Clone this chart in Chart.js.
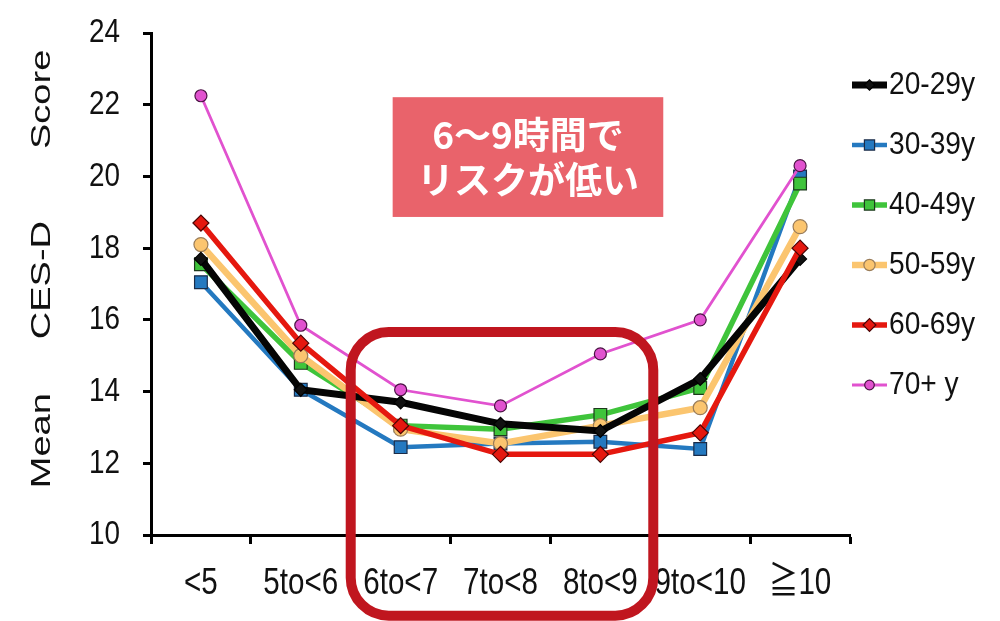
<!DOCTYPE html>
<html lang="ja">
<head>
<meta charset="utf-8">
<style>
  html, body { margin: 0; padding: 0; background: #ffffff; }
  canvas { display: block; }
</style>
<script src="https://cdn.jsdelivr.net/npm/chart.js@4.4.1/dist/chart.umd.min.js"></script>
</head>
<body>
<canvas id="chart" width="1000" height="621"></canvas>
<script>
// Sleep duration categories (hours per night)
const categories = ['<5', '5to<6', '6to<7', '7to<8', '8to<9', '9to<10', '≧10'];

// Mean CES-D score per age group
const ageLabels = ['20-29y', '30-39y', '40-49y', '50-59y', '60-69y', '70+ y'];
const age20s = [17.7, 14.05, 13.7, 13.1, 12.9, 14.35, 17.7];
const age30s = [17.05, 14.05, 12.45, 12.55, 12.6, 12.4, 20.0];
const age40s = [17.55, 14.8, 13.05, 12.95, 13.35, 14.1, 19.8];
const age50s = [18.1, 15.0, 12.95, 12.55, 13.05, 13.55, 18.6];
const age60s = [18.7, 15.35, 13.05, 12.25, 12.25, 12.85, 18.0];
const age70s = [22.25, 15.85, 14.05, 13.6, 15.05, 16.0, 20.3];

// Y axis ticks
const yTicks = [10, 12, 14, 16, 18, 20, 22, 24];
const yTitleWords = ['Mean', 'CES-D', 'Score'];

// Callout text
const noteLines = ['6〜9時間で', 'リスクが低い'];

const seriesValues = [age20s, age30s, age40s, age50s, age60s, age70s];

// Per-series look: line colour/width, marker shape, draw order (lower = on top)
const seriesStyle = [
  { line: '#050505', width: 7,   shape: 'rectRot', r: 6.5, fill: '#111111', edge: '#000000', order: 2 },
  { line: '#2479c0', width: 4.5, shape: 'rect',    r: 9,   fill: '#2479c0', edge: '#1b2c48', order: 5 },
  { line: '#3fc43b', width: 5.5, shape: 'rect',    r: 9,   fill: '#3fc43b', edge: '#1d3a1c', order: 4 },
  { line: '#fbc56f', width: 6.5, shape: 'circle',  r: 7,   fill: '#fbc56f', edge: '#9a7d5a', order: 3 },
  { line: '#e5180f', width: 5.5, shape: 'rectRot', r: 8,   fill: '#e5180f', edge: '#4a0505', order: 1 },
  { line: '#e152cf', width: 2.8, shape: 'circle',  r: 6,   fill: '#e152cf', edge: '#4b1344', order: 0 }
];

const SANS = '"Liberation Sans", "Noto Sans CJK JP", Arial, sans-serif';

const datasets = seriesValues.map((vals, i) => {
  const s = seriesStyle[i];
  return {
    label: ageLabels[i],
    data: vals,
    borderColor: s.line,
    backgroundColor: s.fill,
    borderWidth: s.width,
    pointStyle: s.shape,
    pointRadius: s.r,
    pointHoverRadius: s.r,
    pointBackgroundColor: s.fill,
    pointBorderColor: s.edge,
    pointBorderWidth: 1.2,
    tension: 0,
    fill: false,
    order: s.order
  };
});

// Draws text horizontally condensed by `squash` around (x, y)
function condensedText(ctx, text, x, y, squash) {
  ctx.save();
  ctx.translate(x, y);
  ctx.scale(squash, 1);
  ctx.fillText(text, 0, 0);
  ctx.restore();
}

// Tick labels in a condensed face, placed from the scales' own tick positions
const tickLabelPlugin = {
  id: 'tickLabels',
  afterDraw(chart, args, opts) {
    const { ctx, scales: { x, y } } = chart;
    ctx.save();
    ctx.fillStyle = opts.color;
    ctx.textBaseline = 'middle';
    ctx.font = opts.xFont;
    ctx.textAlign = 'center';
    x.ticks.forEach((t, i) => {
      condensedText(ctx, x.getLabelForValue(t.value), x.getPixelForTick(i), x.top + opts.xOffset, opts.xSquash);
    });
    ctx.font = opts.yFont;
    ctx.textAlign = 'right';
    y.ticks.forEach(t => {
      condensedText(ctx, String(t.value), y.right - opts.yOffset, y.getPixelForValue(t.value), opts.ySquash);
    });
    ctx.restore();
  }
};

// Vertical axis title, drawn rotated along the left side, words spread apart
const axisTitlePlugin = {
  id: 'axisTitle',
  afterDraw(chart, args, opts) {
    const { ctx, chartArea } = chart;
    ctx.save();
    ctx.font = opts.font;
    ctx.fillStyle = opts.color;
    ctx.textAlign = 'center';
    ctx.textBaseline = 'middle';
    const cy = (chartArea.top + chartArea.bottom) / 2 + opts.shift;
    ctx.translate(opts.x, cy);
    ctx.rotate(-Math.PI / 2);
    ctx.scale(1, opts.squash);
    const widths = opts.words.map(w => ctx.measureText(w).width);
    const total = widths.reduce((a, b) => a + b, 0) + opts.gaps.reduce((a, b) => a + b, 0);
    let pos = -total / 2;
    opts.words.forEach((w, i) => {
      ctx.fillText(w, pos + widths[i] / 2, 0);
      pos += widths[i] + (opts.gaps[i] || 0);
    });
    ctx.restore();
  }
};

// Side legend: a short line sample with its marker, followed by the label
const sideLegendPlugin = {
  id: 'sideLegend',
  afterDraw(chart, args, opts) {
    const { ctx, chartArea } = chart;
    const x0 = chartArea.right + opts.offsetX;
    ctx.save();
    chart.data.datasets.forEach((ds, i) => {
      const y = chartArea.top + opts.firstY + i * opts.spacing;
      ctx.strokeStyle = ds.borderColor;
      ctx.lineWidth = ds.borderWidth;
      ctx.lineCap = 'butt';
      ctx.beginPath();
      ctx.moveTo(x0, y);
      ctx.lineTo(x0 + opts.lineLen, y);
      ctx.stroke();
      ctx.fillStyle = ds.pointBackgroundColor;
      ctx.strokeStyle = ds.pointBorderColor;
      ctx.lineWidth = ds.pointBorderWidth;
      Chart.helpers.drawPoint(ctx, {
        pointStyle: ds.pointStyle,
        radius: ds.pointRadius * opts.markerScale,
        rotation: 0,
        borderWidth: ds.pointBorderWidth
      }, x0 + opts.lineLen / 2, y);
      ctx.fillStyle = opts.color;
      ctx.font = opts.font;
      ctx.textAlign = 'left';
      ctx.textBaseline = 'middle';
      condensedText(ctx, ds.label, x0 + opts.lineLen + opts.textGap, y, opts.squash);
    });
    ctx.restore();
  }
};

// Callout box and the rounded frame around the 6–9 hour range
const calloutPlugin = {
  id: 'callout',
  afterDraw(chart, args, opts) {
    const { ctx, scales: { x, y } } = chart;
    ctx.save();
    // filled note box
    const bx1 = x.getPixelForValue(opts.box.x1), bx2 = x.getPixelForValue(opts.box.x2);
    const by1 = y.getPixelForValue(opts.box.y1), by2 = y.getPixelForValue(opts.box.y2);
    ctx.fillStyle = opts.box.color;
    ctx.fillRect(bx1, by1, bx2 - bx1, by2 - by1);
    ctx.fillStyle = '#ffffff';
    ctx.font = opts.box.font;
    ctx.textAlign = 'center';
    ctx.textBaseline = 'middle';
    const cx = (bx1 + bx2) / 2, cy = (by1 + by2) / 2;
    opts.box.lines.forEach((t, i) => {
      ctx.fillText(t, cx, cy + (i - (opts.box.lines.length - 1) / 2) * opts.box.lineGap);
    });
    // rounded frame
    const fx1 = x.getPixelForValue(opts.frame.x1), fx2 = x.getPixelForValue(opts.frame.x2);
    const fy1 = y.getPixelForValue(opts.frame.y1), fy2 = y.getPixelForValue(opts.frame.y2);
    ctx.strokeStyle = opts.frame.color;
    ctx.lineWidth = opts.frame.width;
    ctx.beginPath();
    ctx.roundRect(fx1, fy1, fx2 - fx1, fy2 - fy1, opts.frame.radius);
    ctx.stroke();
    ctx.restore();
  }
};

new Chart(document.getElementById('chart'), {
  type: 'line',
  data: { labels: categories, datasets },
  plugins: [tickLabelPlugin, axisTitlePlugin, calloutPlugin, sideLegendPlugin],
  options: {
    responsive: false,
    animation: false,
    devicePixelRatio: 1,
    layout: { padding: { top: 33, right: 150, bottom: 0, left: 0 } },
    plugins: {
      legend: { display: false },
      tooltip: { enabled: false },
      tickLabels: {
        color: '#111111',
        xFont: '37px ' + SANS,
        xSquash: 0.8,
        xOffset: 49,
        yFont: '34px ' + SANS,
        ySquash: 0.82,
        yOffset: 31
      },
      axisTitle: {
        words: yTitleWords,
        font: '38px ' + SANS,
        color: '#111111',
        x: 42,
        shift: -15,
        gaps: [54, 72],
        squash: 0.74
      },
      sideLegend: {
        offsetX: 2,
        firstY: 52,
        spacing: 60,
        lineLen: 35,
        textGap: 2,
        markerScale: 0.8,
        font: '32px ' + SANS,
        squash: 0.88,
        color: '#111111'
      },
      callout: {
        box: {
          x1: 1.92, x2: 4.63, y1: 22.21, y2: 18.87,
          color: '#e9636b',
          font: 'bold 37px "Noto Sans CJK JP", sans-serif',
          lines: noteLines,
          lineGap: 45
        },
        frame: {
          x1: 1.5, x2: 4.53, y1: 15.66, y2: 7.75,
          color: '#c0161f',
          width: 10,
          radius: 38
        }
      }
    },
    scales: {
      x: {
        type: 'category',
        offset: true,
        afterFit(scale) { scale.height = 86; },
        grid: {
          offset: true,
          drawOnChartArea: false,
          drawTicks: true,
          tickLength: 9,
          tickWidth: 3,
          tickColor: '#000000'
        },
        border: { display: true, color: '#000000', width: 3 },
        ticks: { display: false, autoSkip: false, maxRotation: 0 }
      },
      y: {
        min: 10,
        max: 24,
        afterFit(scale) { scale.width = 151; },
        afterBuildTicks(scale) { scale.ticks = yTicks.map(v => ({ value: v })); },
        grid: {
          drawOnChartArea: false,
          drawTicks: true,
          tickLength: 8,
          tickWidth: 3,
          tickColor: '#000000'
        },
        border: { display: true, color: '#000000', width: 3 },
        ticks: { display: false }
      }
    }
  }
});
</script>
</body>
</html>
